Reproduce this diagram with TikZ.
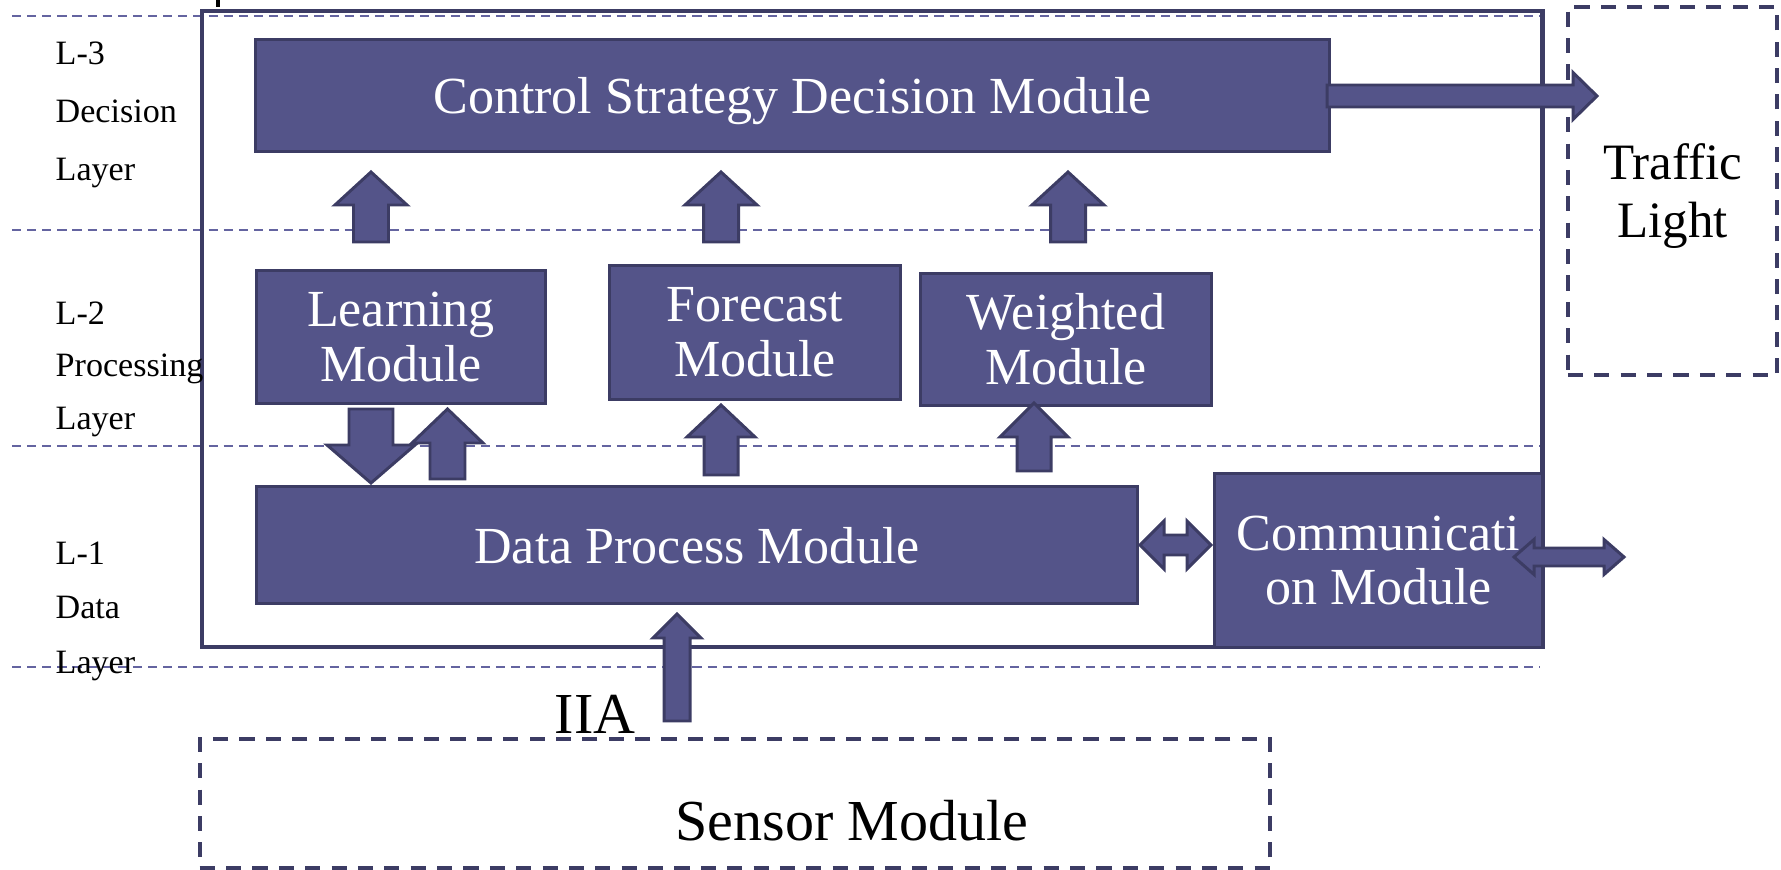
\documentclass[tikz,border=0pt]{standalone}
\usepackage{fontspec}
\setmainfont{Liberation Serif}
\definecolor{modfill}{RGB}{84,84,137}
\definecolor{modline}{RGB}{60,60,100}
\definecolor{layline}{RGB}{100,100,160}
% block arrows: centre, tip, head base, tail, head half width, shaft half width
\newcommand{\blkv}[6]{\draw[blk] (#1-#6,#4) -- (#1-#6,#3) -- (#1-#5,#3) -- (#1,#2) -- (#1+#5,#3) -- (#1+#6,#3) -- (#1+#6,#4) -- cycle;}
\newcommand{\blkh}[6]{\draw[blk] (#4,#1-#6) -- (#3,#1-#6) -- (#3,#1-#5) -- (#2,#1) -- (#3,#1+#5) -- (#3,#1+#6) -- (#4,#1+#6) -- cycle;}
\newcommand{\blkhh}[7]{\draw[blk] (#2,#1) -- (#3,#1-#6) -- (#3,#1-#7) -- (#4,#1-#7) -- (#4,#1-#6) -- (#5,#1) -- (#4,#1+#6) -- (#4,#1+#7) -- (#3,#1+#7) -- (#3,#1+#6) -- cycle;}
\begin{document}
\begin{tikzpicture}[x=0.01cm,y=-0.01cm,module/.style={draw=modline,fill=modfill,line width=0.85pt,text=white,align=center,inner sep=0pt,font=\fontsize{14.8}{15.6}\selectfont},blk/.style={draw=modline,fill=modfill,line width=0.85pt},layer/.style={draw=layline,line width=0.6pt,dash pattern=on 2.6pt off 1.7pt},dashbox/.style={draw=modline,line width=1.2pt,dash pattern=on 4.3pt off 3.2pt,align=center,inner sep=0pt},lbl/.style={anchor=west,align=left,inner sep=0pt}]
\useasboundingbox (0,0) rectangle (1781,870);

\draw[layer] (12,16) -- (1540,16);
\draw[layer] (12,230) -- (1540,230);
\draw[layer] (12,446) -- (1540,446);
\draw[layer] (12,667) -- (1540,667);
\draw[line width=0.9pt] (218,0) -- (218,7);

\node[draw=modline,line width=1.2pt,minimum width=13.4cm,minimum height=6.36cm] (sys) at (872,329) {};

\node[module,text depth=0pt,minimum width=10.73cm,minimum height=1.11cm] (ctrl) at (792.5,95.5) {Control Strategy Decision Module};
\node[module,minimum width=2.88cm,minimum height=1.32cm] (learn) at (401,337) {Learning\\Module};
\node[module,minimum width=2.9cm,minimum height=1.33cm] (fcst) at (755,332.5) {Forecast\\Module};
\node[module,minimum width=2.9cm,minimum height=1.31cm] (wght) at (1066,339.5) {Weighted\\Module};
\node[module,text depth=0pt,minimum width=8.8cm,minimum height=1.17cm] (dproc) at (697,545) {Data Process Module};
\node[module,minimum width=3.27cm,minimum height=1.73cm] (comm) at (1378.5,560.5) {Communicati\\on Module};

\node[dashbox,text depth=0pt,minimum width=2.09cm,minimum height=3.68cm,font=\fontsize{14.5}{16.5}\selectfont] (light) at (1672.5,191) {Traffic\\Light};
\node[dashbox,minimum width=10.7cm,minimum height=1.29cm] (sensor) at (735,803.5) {};
\node[anchor=base,inner sep=0pt,font=\fontsize{16.5}{18}\selectfont] (sensortxt) at (852,840) {Sensor Module};
\node[anchor=base,inner sep=0pt,font=\fontsize{16.5}{18}\selectfont] (iia) at (595,733) {IIA};

\node[lbl,font=\fontsize{9.7}{16.6}\selectfont] (l3) at (55,115) {L-3\\Decision\\Layer};
\node[lbl,font=\fontsize{9.7}{14.9}\selectfont] (l2) at (55,369) {L-2\\Processing\\Layer};
\node[lbl,font=\fontsize{9.7}{15.5}\selectfont] (l1) at (55,611) {L-1\\Data\\Layer};

\blkv{371}{172}{205}{242}{36}{17.5}
\blkv{721}{172}{205}{242}{36}{17.5}
\blkv{1068}{172}{205}{242}{36}{17.5}
\blkv{371}{483}{445}{409}{44}{22}
\blkv{447.5}{409}{443}{479}{35.5}{17.5}
\blkv{721}{405}{437}{475}{34}{17}
\blkv{1034}{403}{437}{471}{34}{17}
\blkv{677}{614}{638}{721}{24}{13}
\blkh{96}{1597}{1573}{1327}{23.5}{11}
\blkhh{545}{1140}{1164}{1187}{1211}{24}{10}
\blkhh{557}{1514}{1534}{1604}{1624}{17.5}{9}
\end{tikzpicture}
\end{document}
